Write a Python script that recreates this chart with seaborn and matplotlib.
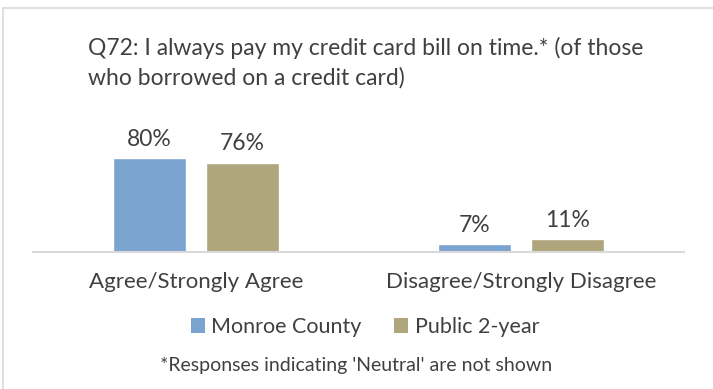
import pandas as pd
import matplotlib
matplotlib.use('Agg')
import matplotlib.pyplot as plt
from matplotlib.patches import Rectangle, Patch
import seaborn as sns

# Data
categories = ['Agree/Strongly Agree', 'Disagree/Strongly Disagree']
series = ['Monroe County', 'Public 2-year']
monroe = [80, 7]
public = [76, 11]
colors = ['#7BA3CF', '#AFA67E']

df = pd.DataFrame({
    'Category': categories * 2,
    'Group': [series[0]] * 2 + [series[1]] * 2,
    'Pct': monroe + public,
})

sns.set_style('white')
plt.rcParams['font.family'] = ['Lato', 'DejaVu Sans']
text_col = '#404040'

fig = plt.figure(figsize=(7.13, 3.89), dpi=100)
ax = fig.add_axes([0.0463, 0.352, 0.913, 0.302])

sns.barplot(data=df, x='Category', y='Pct', hue='Group', palette=colors,
            width=0.571, gap=0.215, ax=ax, legend=False, saturation=1)

for cont in ax.containers:
    ax.bar_label(cont, labels=[f'{v:.0f}%' for v in cont.datavalues],
                 padding=6, fontsize=16.5, color=text_col)

ax.set_xlim(-0.5, 1.5)
ax.set_ylim(0, 100)
ax.set_xlabel('')
ax.set_ylabel('')
ax.set_yticks([])
for s in ['top', 'right', 'left']:
    ax.spines[s].set_visible(False)
ax.spines['bottom'].set_color('#d9d9d9')
ax.spines['bottom'].set_linewidth(1.5)
ax.tick_params(axis='x', length=0, pad=14, labelsize=16, labelcolor=text_col)

fig.text(88 / 713, 1 - 63 / 389,
         'Q72: I always pay my credit card bill on time.* (of those\nwho borrowed on a credit card)',
         fontsize=16.5, color=text_col, ha='left', va='center', linespacing=1.45)

handles = [Patch(facecolor=c, edgecolor='none') for c in colors]
fig.legend(handles, series, loc='center', bbox_to_anchor=(365 / 713, 1 - 327 / 389),
           ncol=2, frameon=False, fontsize=15.5, handlelength=0.65, handleheight=0.65,
           handletextpad=0.3, columnspacing=1.5, labelcolor=text_col)

fig.text(0.5, 1 - 365 / 389, "*Responses indicating 'Neutral' are not shown",
         fontsize=14, color=text_col, ha='center', va='center')

fig.patches.append(Rectangle((3 / 713, -0.1), 1.0, 1 - 8 / 389 + 0.1,
                             transform=fig.transFigure, fill=False,
                             edgecolor='#d9d9d9', linewidth=1.2))

fig.savefig('out.png', dpi=100)
